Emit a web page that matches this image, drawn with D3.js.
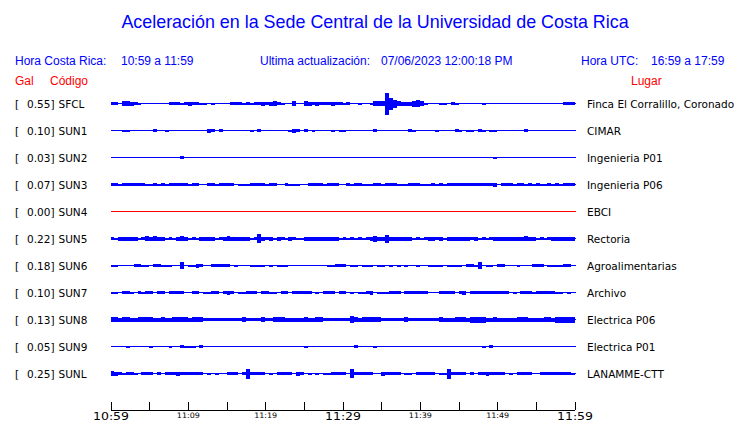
<!DOCTYPE html>
<html>
<head>
<meta charset="utf-8">
<script src="https://cdn.jsdelivr.net/npm/d3@7"></script>
<style>
  html, body { margin: 0; padding: 0; background: #ffffff; }
  svg { display: block; }
</style>
</head>
<body>
<svg id="chart" width="740" height="423"></svg>
<script>
// ---------------- DATA ----------------
const title = "Aceleración en la Sede Central de la Universidad de Costa Rica";
const localLabel = "Hora Costa Rica:";
const localRange = "10:59 a 11:59";
const updateLabel = "Ultima actualización:";
const updateValue = "07/06/2023 12:00:18 PM";
const utcLabel = "Hora UTC:";
const utcRange = "16:59 a 17:59";
const colGal = "Gal", colCode = "Código", colPlace = "Lugar";

const codes = ["SFCL","SUN1","SUN2","SUN3","SUN4","SUN5","SUN6","SUN7","SUN8","SUN9","SUNL"];
const pga = [0.55, 0.10, 0.03, 0.07, 0.00, 0.22, 0.18, 0.10, 0.13, 0.05, 0.25];
const places = ["Finca El Corralillo, Coronado","CIMAR","Ingenieria P01","Ingenieria P06","EBCI",
  "Rectoria","Agroalimentarias","Archivo","Electrica P06","Electrica P01","LANAMME-CTT"];
const lineColors = ["#0000ff","#0000ff","#0000ff","#0000ff","#ff0000","#0000ff","#0000ff","#0000ff","#0000ff","#0000ff","#0000ff"];

// time axis: minutes after 10:59, tick labels every 5 minutes
const tickMinutes = [0,5,10,15,20,25,30,35,40,45,50,55,60];
const tickLabels = ["10:59","","11:09","","11:19","","11:29","","11:39","","11:49","","11:59"];
const majorLabels = ["10:59","11:29","11:59"];

// half-minute envelope amplitudes (relative units), 120 per station
const sfcl = [3,3,0,5,5,4,3,2,0,0, 1,0,1,0,1,3,3,3,2,3, 4,3,3,2,2,0,2,1,1,0, 0,3,3,3,2,3,2,3,3,4,
  3,4,5,3,2,0,0,5,1,0, 5,4,3,4,3,3,3,4,3,3, 2,3,0,1,2,1,0,2,5,5, 5,22,12,8,5,4,4,4,6,7,
  5,2,1,1,1,2,2,1,3,2, 0,0,0,0,0,0,2,0,0,0, 1,1,0,0,0,0,0,0,0,0, 0,0,0,0,0,0,0,3,3,3];
const sun1 = [0,0,0,2,2,0,0,0,0,0, 0,3,0,0,2,0,0,0,0,0, 0,0,0,0,0,4,3,0,3,0, 0,0,0,0,0,0,2,0,3,0,
  0,0,0,0,0,0,2,4,3,0, 3,0,2,0,0,0,0,2,0,2, 2,0,0,0,0,0,0,0,3,0, 0,0,0,0,0,0,0,3,2,0,
  0,0,0,0,2,0,0,0,0,3, 2,0,2,2,0,3,2,0,2,2, 0,0,0,0,0,0,0,3,0,0, 0,0,0,0,0,0,0,0,0,0];
const sun2 = [0,0,0,0,0,0,0,0,0,0, 0,0,0,0,0,0,0,0,3,0, 0,0,0,0,0,0,0,0,0,0, 0,0,0,0,0,0,0,0,0,0,
  0,0,0,0,0,0,0,0,0,0, 0,0,0,0,0,0,0,0,0,0, 0,0,0,0,0,0,0,0,0,0, 0,0,0,0,0,0,0,0,0,0,
  0,0,0,0,0,0,0,0,0,0, 0,0,0,0,0,0,0,0,0,2, 0,0,0,0,0,0,0,0,0,0, 0,0,0,0,0,0,0,0,0,0];
const sun3 = [3,3,2,3,3,3,3,3,3,2, 2,3,2,3,2,3,3,3,3,3, 2,3,3,1,1,3,3,2,3,3, 3,3,1,2,2,2,3,3,3,3,
  2,3,3,1,1,3,2,2,2,1, 1,3,3,3,3,2,3,3,3,1, 1,3,2,3,3,2,2,2,3,3, 2,3,3,3,2,2,2,3,3,3,
  2,2,2,3,2,3,2,3,3,3, 3,3,3,3,3,3,3,3,3,4, 1,3,3,3,2,3,3,2,3,2, 3,2,2,3,2,3,2,3,3,3];
const sun4 = [0,0,0,0,0,0,0,0,0,0, 0,0,0,0,0,0,0,0,0,0, 0,0,0,0,0,0,0,0,0,0, 0,0,0,0,0,0,0,0,0,0,
  0,0,0,0,0,0,0,0,0,0, 0,0,0,0,0,0,0,0,0,0, 0,0,0,0,0,0,0,0,0,0, 0,0,0,0,0,0,0,0,0,0,
  0,0,0,0,0,0,0,0,0,0, 0,0,0,0,0,0,0,0,0,0, 0,0,0,0,0,0,0,0,0,0, 0,0,0,0,0,0,0,0,0,0];
const sun5 = [3,2,4,4,4,4,4,2,3,5, 4,5,4,4,2,3,2,4,5,4, 2,3,2,4,4,4,4,2,3,4, 5,4,4,4,4,4,2,3,9,4,
  3,4,2,4,3,2,4,3,2,2, 4,4,4,4,4,4,4,4,4,2, 3,2,3,2,3,2,3,4,6,4, 4,8,4,4,4,4,4,4,2,3,
  2,3,4,4,3,4,2,4,4,4, 4,4,4,3,4,2,3,2,3,4, 4,4,4,4,4,4,4,5,4,4, 2,3,2,3,4,4,4,4,4,4];
const sun6 = [2,2,0,0,0,0,3,3,2,2, 0,3,3,2,2,2,0,0,7,0, 2,2,4,3,0,0,3,3,3,3, 3,0,2,0,1,0,2,2,2,2,
  0,2,0,2,2,2,0,0,0,1, 0,0,0,0,1,0,2,2,3,3, 3,0,2,2,0,2,2,2,0,2, 2,0,2,0,2,0,2,0,0,2,
  0,0,2,2,2,2,0,2,2,2, 2,0,3,3,2,7,0,2,2,0, 3,3,0,1,0,2,0,1,1,3, 3,3,1,2,2,2,2,3,3,0];
const sun7 = [2,2,0,3,3,2,0,3,2,3, 3,0,3,3,0,3,3,3,3,0, 0,3,3,0,2,2,3,3,0,3, 4,3,0,2,2,3,3,3,0,3,
  3,2,2,0,3,3,0,3,3,3, 3,3,0,2,0,3,3,3,0,3, 3,0,2,0,2,2,3,4,0,2, 2,2,3,3,3,0,3,3,3,3,
  3,3,1,0,0,3,3,3,3,0, 3,4,0,3,3,3,3,3,3,3, 3,3,3,0,2,0,3,3,3,2, 3,3,3,3,3,2,2,0,2,0];
const sun8 = [5,5,4,5,5,4,4,5,5,5, 5,4,4,5,4,4,5,5,5,5, 4,5,5,5,3,3,3,3,3,3, 3,3,3,3,5,3,3,3,3,5,
  3,3,5,5,5,4,4,4,4,4, 5,4,4,5,5,3,3,3,3,3, 3,3,7,5,4,5,5,5,5,5, 3,3,3,3,3,3,5,3,3,3,
  3,3,3,3,3,5,4,4,4,5, 5,5,4,6,6,6,6,4,4,5, 4,4,4,4,4,5,5,5,4,4, 4,4,5,5,4,6,6,6,6,6];
const sun9 = [0,0,0,0,2,0,0,0,0,0, 2,0,0,0,0,2,0,0,3,2, 2,2,0,3,0,0,0,0,0,0, 0,0,0,0,0,0,0,0,0,0,
  0,0,0,0,0,0,0,0,0,0, 2,0,0,0,0,0,0,0,0,0, 0,0,0,3,0,0,0,0,2,0, 0,0,0,0,0,0,0,0,0,0,
  0,0,0,0,0,0,0,0,0,0, 0,0,0,0,0,0,2,0,3,0, 0,0,0,0,0,0,0,0,0,0, 0,0,0,0,0,0,0,0,0,0];
const sunl = [5,4,3,2,3,3,2,0,3,3, 3,1,3,0,3,3,3,4,3,3, 3,3,3,3,0,2,1,2,1,0, 3,3,3,1,3,10,3,3,3,3,
  1,2,1,3,3,3,3,0,4,3, 1,2,0,2,0,2,2,3,3,3, 3,1,9,3,3,3,3,3,0,0, 4,3,3,3,3,1,2,2,1,3,
  3,3,3,3,0,2,2,10,3,3, 3,3,0,3,1,3,3,4,3,3, 3,3,1,2,0,3,3,3,3,0, 1,3,3,3,3,3,3,3,3,2];
const traces = [sfcl, sun1, sun2, sun3, sun4, sun5, sun6, sun7, sun8, sun9, sunl];
const binMinutes = 0.5;

// ---------------- DRAW ----------------
const svg = d3.select("#chart");
const blue = "#0000ff", red = "#ff0000";
const sans = "'Liberation Sans', Arial, sans-serif";
const dv = "'DejaVu Sans', sans-serif";

const x = d3.scaleLinear().domain([0, 60]).range([110.5, 574.5]);
const y = d3.scalePoint().domain(codes).range([103.5, 373.5]);
const amp = d3.scaleLinear().domain([0, 24]).range([0, 12]);

// title & header
svg.append("text").attr("x", 375).attr("y", 28).attr("text-anchor", "middle")
  .attr("font-family", sans).attr("font-size", 17.9).attr("fill", blue).text(title);

const header = [
  {t: localLabel, x: 15}, {t: localRange, x: 121},
  {t: updateLabel, x: 260}, {t: updateValue, x: 381},
  {t: utcLabel, x: 581}, {t: utcRange, x: 651}
];
svg.selectAll("text.hdr").data(header).enter().append("text").attr("class", "hdr")
  .attr("x", d => d.x).attr("y", 65).attr("font-family", sans).attr("font-size", 12)
  .attr("fill", blue).text(d => d.t);

const cols = [{t: colGal, x: 15}, {t: colCode, x: 50}, {t: colPlace, x: 631}];
svg.selectAll("text.col").data(cols).enter().append("text").attr("class", "col")
  .attr("x", d => d.x).attr("y", 85).attr("font-family", sans).attr("font-size", 12)
  .attr("fill", red).text(d => d.t);

// rows
const rows = svg.selectAll("g.row").data(codes).enter().append("g").attr("class", "row")
  .attr("transform", d => `translate(0,${y(d)})`);

rows.append("text").attr("x", 15).attr("y", 4).attr("font-family", dv).attr("font-size", 10.5)
  .attr("fill", "#000").text("[");
rows.append("text").attr("x", 54.5).attr("y", 4).attr("text-anchor", "end")
  .attr("font-family", dv).attr("font-size", 10.5).attr("fill", "#000")
  .text((d, i) => pga[i].toFixed(2) + "]");
rows.append("text").attr("x", 58.5).attr("y", 4).attr("font-family", dv).attr("font-size", 10.5)
  .attr("fill", "#000").text(d => d);
rows.append("text").attr("x", 587).attr("y", 4).attr("font-family", dv).attr("font-size", 10.5)
  .attr("fill", "#000").text((d, i) => places[i]);

rows.append("line").attr("x1", x(0)).attr("x2", x(60) + 1).attr("y1", 0).attr("y2", 0)
  .attr("stroke", (d, i) => lineColors[i]).attr("stroke-width", 1).attr("shape-rendering", "crispEdges");

rows.each(function(code, r) {
  const g = d3.select(this);
  const vals = traces[r].map((v, i) => ({v, t: i * binMinutes})).filter(d => d.v > 0);
  g.selectAll("rect.b").data(vals).enter().append("rect").attr("class", "b")
    .attr("x", d => x(d.t))
    .attr("width", d => x(d.t + binMinutes) - x(d.t))
    .attr("y", d => -amp(d.v))
    .attr("height", d => 2 * amp(d.v))
    .attr("fill", lineColors[r]).attr("shape-rendering", "crispEdges");
});

// time axis
const axis = d3.axisBottom(x).tickValues(tickMinutes)
  .tickFormat((d, i) => tickLabels[i])
  .tickSizeInner(-8).tickSizeOuter(0).tickPadding(3);
const ag = svg.append("g").attr("transform", "translate(0,409.5)").call(axis);
ag.select(".domain").attr("stroke", "#000").attr("shape-rendering", "crispEdges");
ag.selectAll(".tick line").attr("stroke", "#000").attr("shape-rendering", "crispEdges");
ag.selectAll(".tick text").attr("fill", "#000").attr("font-family", dv)
  .each(function(d, i) {
    const big = majorLabels.includes(tickLabels[i]);
    d3.select(this).attr("font-size", big ? 10 : 7.5)
      .attr("textLength", big ? 36 : 23).attr("lengthAdjust", "spacingAndGlyphs");
  });
</script>
</body>
</html>
